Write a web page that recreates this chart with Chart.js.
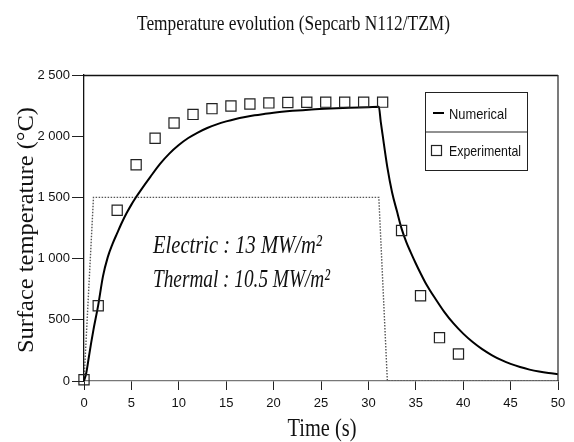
<!DOCTYPE html>
<html>
<head>
<meta charset="utf-8">
<script src="https://cdn.jsdelivr.net/npm/chart.js@4/dist/chart.umd.min.js"></script>
<style>
  html, body { margin: 0; padding: 0; background: #ffffff; }
  #wrap { width: 574px; height: 442px; }
</style>
</head>
<body>
<div id="wrap"><canvas id="c" width="574" height="442"></canvas></div>
<script>
// ---- Data ----
const titleText = "Temperature evolution (Sepcarb N112/TZM)";
const xTitle = "Time (s)";
const yTitle = "Surface temperature (°C)";
const legendLabels = ["Numerical", "Experimental"];
const noteLines = ["Electric : 13 MW/m²", "Thermal : 10.5 MW/m²"];

const xTicks = [0, 5, 10, 15, 20, 25, 30, 35, 40, 45, 50];
const yTicks = [0, 500, 1000, 1500, 2000, 2500];

// Numerical (simulation) curve
const numTime = [0, 0.25, 0.5, 0.75, 1, 1.5, 2, 2.5, 3, 3.5, 4, 4.5, 5, 5.5, 6, 7, 8, 9, 10, 11, 12, 13, 14, 15, 16, 17, 18, 19, 20, 22, 24, 26, 28, 30, 31.1,
                 31.3, 31.5, 32, 32.5, 33, 33.5, 34, 34.5, 35, 35.5, 36, 36.5, 37, 38, 39, 40, 41, 42, 43, 44, 45, 46, 47, 48, 49, 50];
const numTemp = [0, 70, 190, 310, 420, 620, 855, 1010, 1118, 1208, 1295, 1372, 1441, 1503, 1560, 1668, 1772, 1858, 1928, 1985, 2030, 2067, 2097, 2121, 2141, 2157, 2171, 2182, 2192, 2207, 2219, 2227, 2233, 2237, 2240,
                 2120, 2010, 1745, 1540, 1390, 1245, 1135, 1045, 960, 880, 805, 740, 680, 565, 468, 387, 318, 260, 212, 172, 140, 114, 93, 77, 65, 56];

// Experimental measurements
const expTime = [0, 1.5, 3.5, 5.5, 7.5, 9.5, 11.5, 13.5, 15.5, 17.5, 19.5, 21.5, 23.5, 25.5, 27.5, 29.5, 31.5, 33.5, 35.5, 37.5, 39.5];
const expTemp = [10, 615, 1395, 1767, 1983, 2108, 2178, 2225, 2247, 2263, 2272, 2275, 2277, 2278, 2278, 2278, 2278, 1230, 696, 354, 221];

// Heat flux (power) profile, dotted
const fluxTime = [0, 1, 31.1, 32, 50];
const fluxTemp = [0, 1500, 1500, 0, 0];

// ---- helpers ----
const pts = (xs, ys) => xs.map((x, i) => ({ x: x, y: ys[i] }));
const fmtThousands = v => v >= 1000 ? Math.floor(v / 1000) + " " + String(v % 1000).padStart(3, "0") : String(v);

function fitText(ctx, text, x, y, font, width, align, rot) {
  ctx.save();
  ctx.font = font;
  ctx.textAlign = align;
  ctx.textBaseline = "alphabetic";
  const w = ctx.measureText(text).width;
  const sx = width / w;
  ctx.translate(x, y);
  if (rot) ctx.rotate(rot);
  ctx.scale(sx, 1);
  ctx.fillText(text, 0, 0);
  ctx.restore();
}

const decor = {
  id: "decor",
  afterDraw(chart) {
    const ctx = chart.ctx;
    const a = chart.chartArea;
    ctx.save();
    // frame: top and right borders
    ctx.lineWidth = 1.3;
    ctx.strokeStyle = "#111";
    ctx.beginPath();
    ctx.moveTo(a.left, a.top + 0.5);
    ctx.lineTo(a.right, a.top + 0.5);
    ctx.stroke();
    ctx.strokeStyle = "#333";
    ctx.beginPath();
    ctx.moveTo(a.right, a.top);
    ctx.lineTo(a.right, a.bottom);
    ctx.stroke();

    ctx.fillStyle = "#111";
    // title
    fitText(ctx, titleText, 293.5, 30, "22px 'Liberation Serif'", 313, "center");
    // axis titles
    fitText(ctx, xTitle, 322, 436, "25px 'Liberation Serif'", 69, "center");
    fitText(ctx, yTitle, 33, 230, "24px 'Liberation Serif'", 246, "center", -Math.PI / 2);
    // annotation
    fitText(ctx, noteLines[0], 153, 253, "italic 26px 'Liberation Serif'", 169, "left");
    fitText(ctx, noteLines[1], 153, 287, "italic 26px 'Liberation Serif'", 177, "left");

    // legend box
    const lx = 425, ly = 92, lw = 102, lh = 78, mid = 131.5;
    ctx.lineWidth = 1;
    ctx.strokeStyle = "#222";
    ctx.strokeRect(lx + 0.5, ly + 0.5, lw, lh);
    ctx.beginPath();
    ctx.moveTo(lx, mid + 0.5);
    ctx.lineTo(lx + lw, mid + 0.5);
    ctx.stroke();
    // Numerical sample
    ctx.lineWidth = 2;
    ctx.strokeStyle = "#000";
    ctx.beginPath();
    ctx.moveTo(433, 113);
    ctx.lineTo(444, 113);
    ctx.stroke();
    fitText(ctx, legendLabels[0], 449, 118.5, "15px 'Liberation Sans'", 58, "left");
    // Experimental sample
    ctx.lineWidth = 1.2;
    ctx.strokeStyle = "#222";
    ctx.strokeRect(431.5, 145.5, 10, 10);
    fitText(ctx, legendLabels[1], 449, 156, "15px 'Liberation Sans'", 72, "left");
    ctx.restore();
  }
};

new Chart(document.getElementById("c"), {
  type: "scatter",
  data: {
    datasets: [
      {
        label: legendLabels[0],
        data: pts(numTime, numTemp),
        showLine: true,
        borderColor: "#000",
        borderWidth: 2,
        pointRadius: 0,
        cubicInterpolationMode: "monotone",
        order: 2
      },
      {
        label: "Flux",
        data: pts(fluxTime, fluxTemp),
        showLine: true,
        borderColor: "#555",
        borderWidth: 1.4,
        borderDash: [1.5, 1.5],
        pointRadius: 0,
        tension: 0,
        order: 3
      },
      {
        label: legendLabels[1],
        data: pts(expTime, expTemp),
        showLine: false,
        pointStyle: "rect",
        pointRadius: 7.2,
        pointBorderWidth: 1.2,
        borderColor: "#222",
        backgroundColor: "rgba(255,255,255,0)",
        clip: false,
        order: 1
      }
    ]
  },
  options: {
    responsive: false,
    animation: false,
    devicePixelRatio: 1,
    layout: { padding: { left: 0, right: 16, top: 75, bottom: 0 } },
    plugins: { legend: { display: false }, tooltip: { enabled: false }, title: { display: false } },
    scales: {
      x: {
        type: "linear",
        min: 0, max: 50,
        afterFit: s => { s.height = 61; },
        afterBuildTicks: s => { s.ticks = xTicks.map(v => ({ value: v })); },
        ticks: { color: "#111", font: { family: "'Liberation Sans'", size: 13 }, padding: 6, maxRotation: 0, callback: v => String(v) },
        grid: { display: true, drawOnChartArea: false, drawTicks: true, tickLength: 9, color: "#222", lineWidth: 1 },
        border: { display: true, color: "#777", width: 1.3 }
      },
      y: {
        type: "linear",
        min: 0, max: 2500,
        afterFit: s => { s.width = 84; },
        afterBuildTicks: s => { s.ticks = yTicks.map(v => ({ value: v })); },
        ticks: { color: "#111", font: { family: "'Liberation Sans'", size: 13 }, padding: 2, callback: v => fmtThousands(v) },
        grid: { display: true, drawOnChartArea: false, drawTicks: true, tickLength: 12, color: "#222", lineWidth: 1 },
        border: { display: true, color: "#111", width: 1.3 }
      }
    }
  },
  plugins: [decor]
});
</script>
</body>
</html>
